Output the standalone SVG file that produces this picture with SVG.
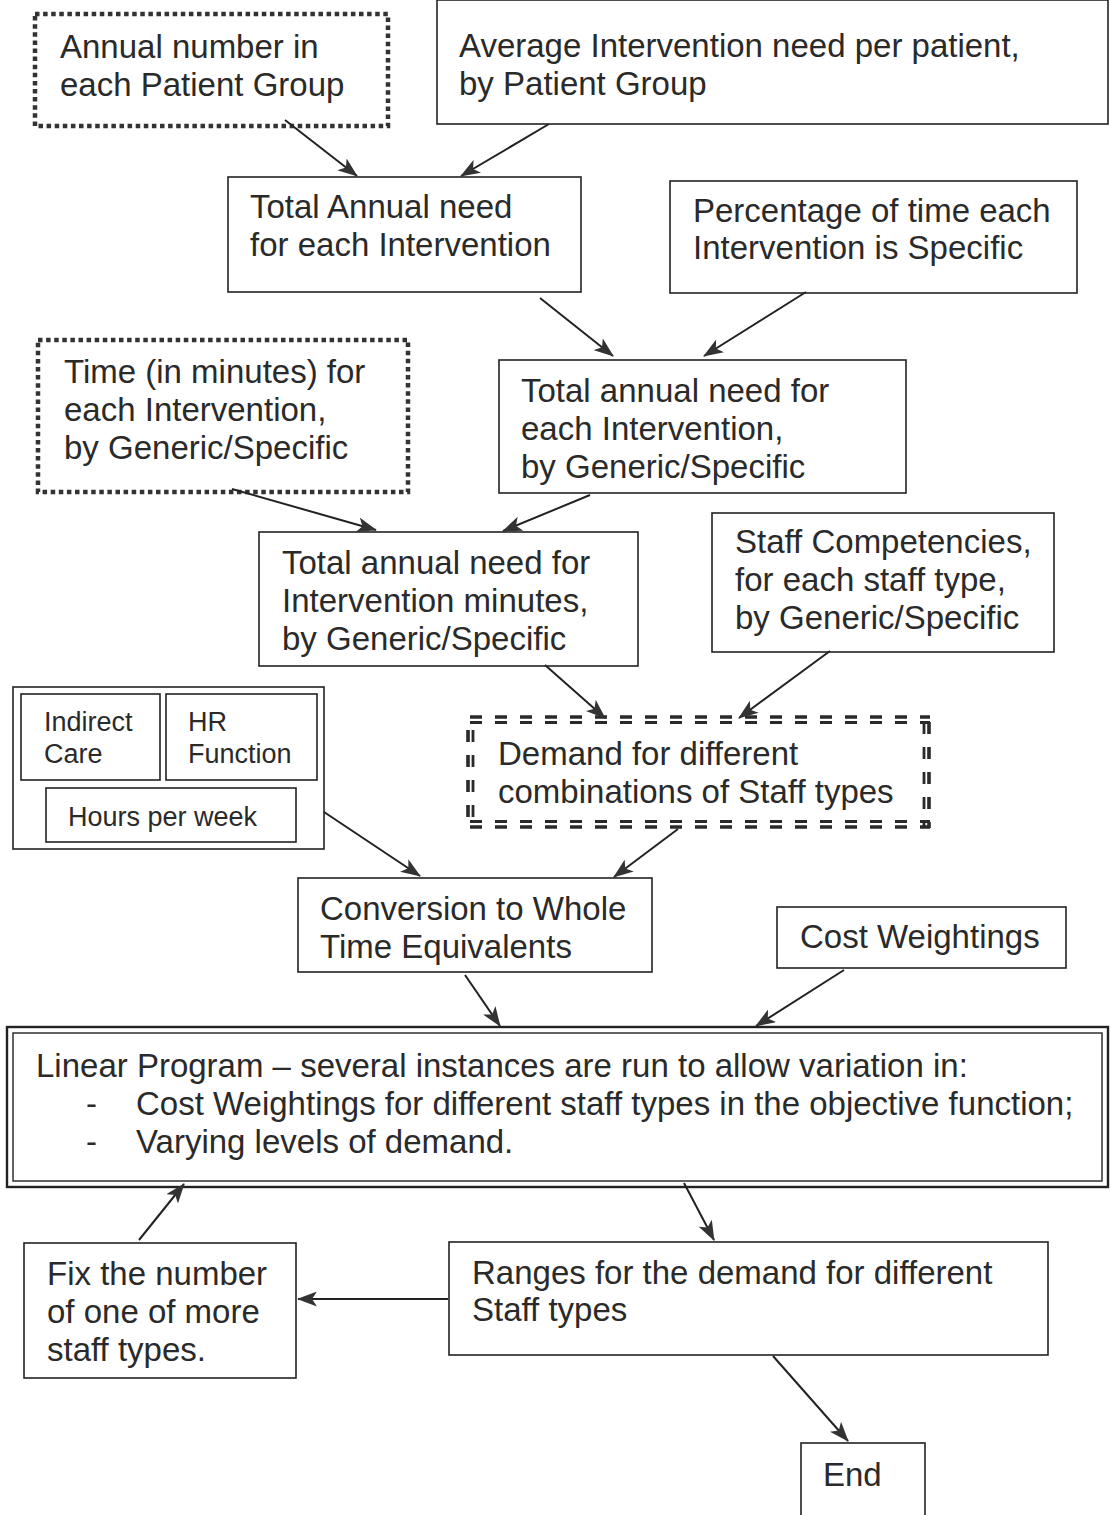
<svg xmlns="http://www.w3.org/2000/svg" width="1110" height="1515" viewBox="0 0 1110 1515">
  <style>
    .box { fill: #fff; stroke: #222; stroke-width: 1.6; }
    .dotted { fill: #fff; stroke: #333; stroke-width: 4.5; stroke-dasharray: 4.5 3.6; }
    .dash-a { fill: none; stroke: #2a2a2a; stroke-width: 3.6; stroke-dasharray: 12 13; }
    .dash-b { fill: none; stroke: #2a2a2a; stroke-width: 2.8; stroke-dasharray: 12 13; }
    .t { font-family: "Liberation Sans", Arial, sans-serif; font-size: 33px; fill: #2a2a2a; }
    .s { font-family: "Liberation Sans", Arial, sans-serif; font-size: 27px; fill: #2a2a2a; }
    .conn { stroke: #222; stroke-width: 2; fill: none; marker-end: url(#stealth); }
  </style>
  <defs>
    <marker id="stealth" viewBox="0 0 20 15" refX="19" refY="7.5" markerWidth="20" markerHeight="15" markerUnits="userSpaceOnUse" orient="auto">
      <path d="M0,0 L20,7.5 L0,15 L5,7.5 Z" fill="#333"/>
    </marker>
  </defs>
  <rect width="1110" height="1515" fill="#fff"/>

  <g id="annual-number">
    <rect class="dotted" x="35" y="14" width="353" height="112"/>
    <text class="t" x="60" y="58">Annual number in</text>
    <text class="t" x="60" y="96">each Patient Group</text>
  </g>

  <g id="average-need">
    <rect class="box" x="437" y="0" width="671" height="124"/>
    <text class="t" x="459" y="57">Average Intervention need per patient,</text>
    <text class="t" x="459" y="95">by Patient Group</text>
  </g>

  <g id="total-annual-need">
    <rect class="box" x="228" y="177" width="353" height="115"/>
    <text class="t" x="250" y="218">Total Annual need</text>
    <text class="t" x="250" y="256">for each Intervention</text>
  </g>

  <g id="percentage-specific">
    <rect class="box" x="670" y="181" width="407" height="112"/>
    <text class="t" x="693" y="222">Percentage of time each</text>
    <text class="t" x="693" y="259">Intervention is Specific</text>
  </g>

  <g id="time-minutes">
    <rect class="dotted" x="38" y="340" width="370" height="152"/>
    <text class="t" x="64" y="383">Time (in minutes) for</text>
    <text class="t" x="64" y="421">each Intervention,</text>
    <text class="t" x="64" y="459">by Generic/Specific</text>
  </g>

  <g id="need-generic-specific">
    <rect class="box" x="499" y="360" width="407" height="133"/>
    <text class="t" x="521" y="402">Total annual need for</text>
    <text class="t" x="521" y="440">each Intervention,</text>
    <text class="t" x="521" y="478">by Generic/Specific</text>
  </g>

  <g id="need-minutes">
    <rect class="box" x="259" y="532" width="379" height="134"/>
    <text class="t" x="282" y="574">Total annual need for</text>
    <text class="t" x="282" y="612">Intervention minutes,</text>
    <text class="t" x="282" y="650">by Generic/Specific</text>
  </g>

  <g id="staff-competencies">
    <rect class="box" x="712" y="513" width="342" height="139"/>
    <text class="t" x="735" y="553">Staff Competencies,</text>
    <text class="t" x="735" y="591">for each staff type,</text>
    <text class="t" x="735" y="629">by Generic/Specific</text>
  </g>

  <g id="hours-inputs">
    <rect class="box" x="13" y="687" width="311" height="162"/>
    <rect class="box" x="21" y="694" width="139" height="86"/>
    <text class="s" x="44" y="731">Indirect</text>
    <text class="s" x="44" y="763">Care</text>
    <rect class="box" x="166" y="694" width="151" height="86"/>
    <text class="s" x="188" y="731">HR</text>
    <text class="s" x="188" y="763">Function</text>
    <rect class="box" x="46" y="788" width="250" height="54"/>
    <text class="s" x="68" y="826">Hours per week</text>
  </g>

  <g id="staff-demand">
    <rect x="466" y="715" width="466" height="116" fill="#fff"/>
    <!-- paired dash lines: top, bottom, left, right -->
    <path class="dash-a" d="M470,717 H930 M470,827 H930"/>
    <path class="dash-b" d="M470,722.5 H930 M470,821.5 H930"/>
    <path class="dash-a" d="M468,730 V828 M929,722 V828"/>
    <path class="dash-b" d="M473,730 V828 M924,722 V828"/>
    <text class="t" x="498" y="765">Demand for different</text>
    <text class="t" x="498" y="803">combinations of Staff types</text>
  </g>

  <g id="whole-time">
    <rect class="box" x="298" y="878" width="354" height="94"/>
    <text class="t" x="320" y="920">Conversion to Whole</text>
    <text class="t" x="320" y="958">Time Equivalents</text>
  </g>

  <g id="cost-weightings">
    <rect class="box" x="777" y="907" width="289" height="61"/>
    <text class="t" x="800" y="948">Cost Weightings</text>
  </g>

  <g id="linear-program">
    <rect x="7" y="1027" width="1101" height="160" fill="#fff" stroke="#222" stroke-width="2.4"/>
    <rect x="13" y="1033" width="1089" height="148" fill="none" stroke="#222" stroke-width="1.4"/>
    <text class="t" x="36" y="1077">Linear Program – several instances are run to allow variation in:</text>
    <text class="t" x="86" y="1115">-</text>
    <text class="t" x="136" y="1115">Cost Weightings for different staff types in the objective function;</text>
    <text class="t" x="86" y="1153">-</text>
    <text class="t" x="136" y="1153">Varying levels of demand.</text>
  </g>

  <g id="fix-staff">
    <rect class="box" x="24" y="1243" width="272" height="135"/>
    <text class="t" x="47" y="1285">Fix the number</text>
    <text class="t" x="47" y="1323">of one of more</text>
    <text class="t" x="47" y="1361">staff types.</text>
  </g>

  <g id="demand-ranges">
    <rect class="box" x="449" y="1242" width="599" height="113"/>
    <text class="t" x="472" y="1284">Ranges for the demand for different</text>
    <text class="t" x="472" y="1321">Staff types</text>
  </g>

  <g id="end">
    <rect class="box" x="801" y="1443" width="124" height="80"/>
    <text class="t" x="823" y="1486">End</text>
  </g>

  <g id="connectors">
    <line class="conn" x1="285" y1="120" x2="357" y2="176"/>
    <line class="conn" x1="549" y1="124" x2="461" y2="176"/>
    <line class="conn" x1="540" y1="298" x2="613" y2="356"/>
    <line class="conn" x1="806" y1="292" x2="704" y2="356"/>
    <line class="conn" x1="232" y1="489" x2="376" y2="530"/>
    <line class="conn" x1="590" y1="495" x2="503" y2="531"/>
    <line class="conn" x1="545" y1="665" x2="605" y2="718"/>
    <line class="conn" x1="830" y1="651" x2="739" y2="718"/>
    <line class="conn" x1="324" y1="812" x2="420" y2="876"/>
    <line class="conn" x1="678" y1="829" x2="614" y2="877"/>
    <line class="conn" x1="465" y1="975" x2="500" y2="1026"/>
    <line class="conn" x1="844" y1="970" x2="756" y2="1026"/>
    <line class="conn" x1="139" y1="1240" x2="184" y2="1184"/>
    <line class="conn" x1="684" y1="1183" x2="714" y2="1240"/>
    <line class="conn" x1="448" y1="1299" x2="298" y2="1299"/>
    <line class="conn" x1="773" y1="1356" x2="848" y2="1441"/>
  </g>
</svg>
